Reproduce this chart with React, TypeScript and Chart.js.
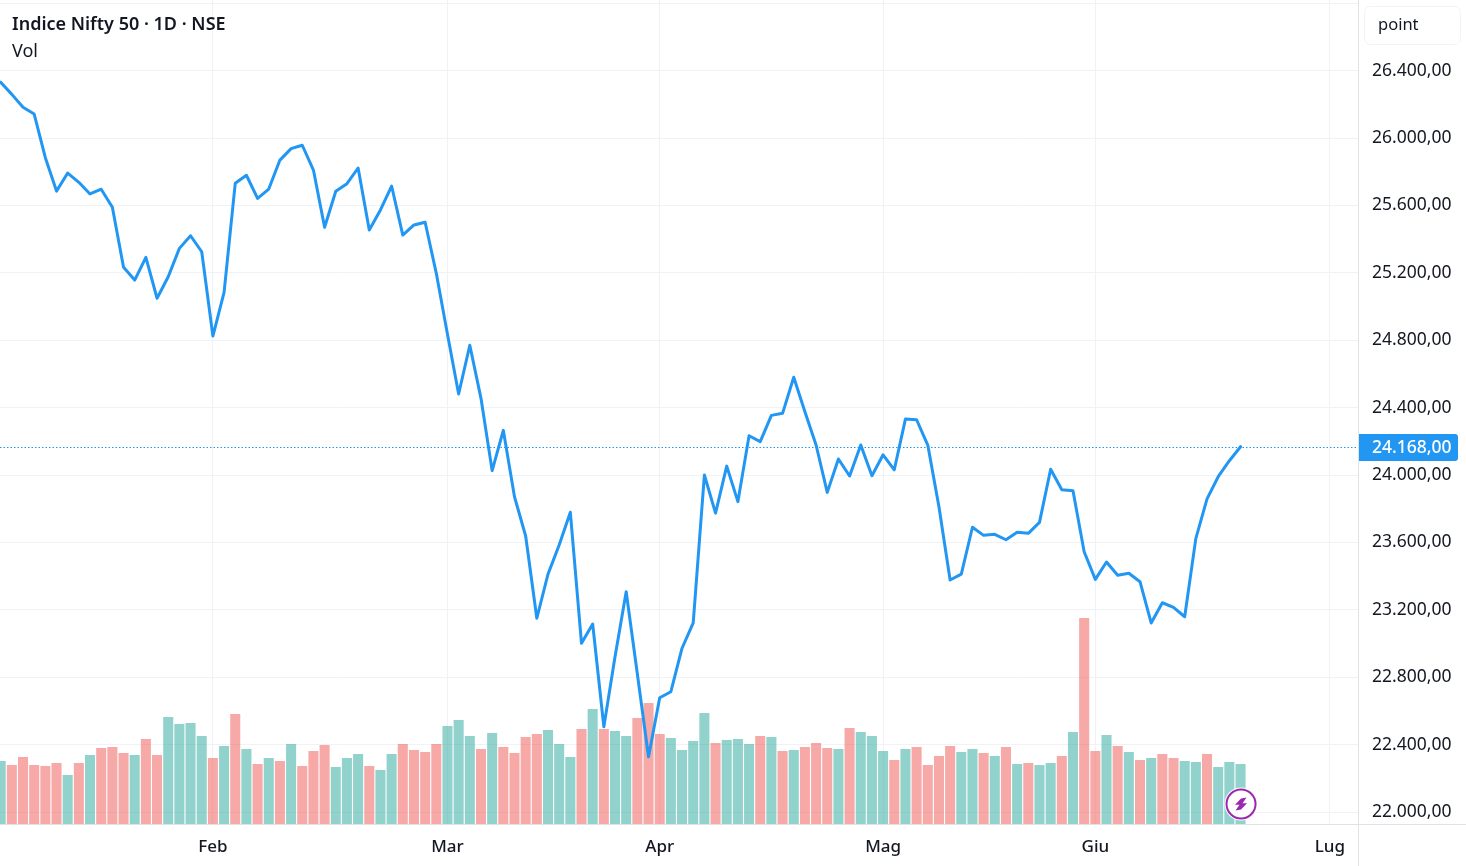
import React, { useEffect, useRef } from "react";
import { Chart, registerables } from "chart.js";

Chart.register(...registerables);

const closes = [
  26331, 26259, 26182, 26142, 25883, 25685, 25792, 25737, 25668, 25696,
  25589, 25233, 25157, 25292, 25049, 25177, 25345, 25420, 25325, 24825,
  25084, 25731, 25779, 25642, 25697, 25869, 25937, 25957, 25810, 25470,
  25684, 25729, 25822, 25454, 25573, 25715, 25424, 25484, 25500, 25197,
  24835, 24481, 24770, 24455, 24026, 24265, 23871, 23638, 23150, 23412,
  23585, 23779, 23001, 23116, 22506, 22922, 23307, 22819, 22328, 22678,
  22714, 22972, 23123, 24000, 23774, 24053, 23842, 24233, 24198, 24354,
  24366, 24580, 24376, 24178, 23897, 24095, 23994, 24178, 23996, 24120,
  24031, 24332, 24328, 24178, 23812, 23377, 23412, 23690, 23642, 23648,
  23616, 23660, 23654, 23719, 24034, 23913, 23907, 23545, 23381, 23484,
  23405, 23417, 23367, 23122, 23242, 23215, 23159, 23624, 23858, 23990,
  24085, 24168,
];

const volumes = [
  189, 177, 201, 177, 174, 183, 147, 183, 207, 228,
  231, 213, 207, 255, 207, 321, 300, 303, 264, 198,
  234, 330, 225, 180, 198, 189, 240, 174, 219, 237,
  171, 198, 210, 174, 162, 210, 240, 222, 216, 240,
  294, 312, 264, 225, 273, 231, 213, 261, 270, 282,
  240, 201, 285, 345, 285, 279, 264, 318, 363, 270,
  258, 222, 249, 333, 243, 252, 255, 240, 264, 261,
  219, 222, 231, 243, 228, 225, 288, 276, 264, 219,
  192, 225, 231, 177, 204, 234, 216, 225, 213, 204,
  231, 180, 183, 177, 183, 204, 276, 618, 219, 267,
  234, 216, 192, 198, 210, 198, 189, 186, 210, 171,
  186, 180,
];

const volumeDirections = (
  "udddddudud" + "ddudduuuud" + "ududududdd" + "uuuduudddd" + "uuududdddu" +
  "uududuuddd" + "uuuuduuudu" + "duddduduuu" + "dudddduudu" + "duduududdu" +
  "dududduudu" + "uu"
).split("");

const monthTickIndexes = [19, 40, 59, 79, 98, 119];
const monthLabels = ["Feb", "Mar", "Apr", "Mag", "Giu", "Lug"];
const priceTicks = [22000, 22400, 22800, 23200, 23600, 24000, 24400, 24800, 25200, 25600, 26000, 26400, 26800];
const titleText = "Indice Nifty 50 · 1D · NSE";
const subTitleText = "Vol";
const unitText = "point";

const FONT = '"Noto Sans", sans-serif';
const INK = "#131722";
const BLUE = "#2196f3";
const GRID = "#f1f2f5";
const AXIS = "#e0e3e6";

const fmt = (v: number) =>
  Math.floor(v).toString().replace(/\B(?=(\d{3})+(?!\d))/g, ".") + ",00";

const zeroPadding = (s: any) => {
  s.paddingTop = 0;
  s.paddingBottom = 0;
  s.paddingLeft = 0;
  s.paddingRight = 0;
};

const overlay = {
  id: "overlay",
  afterDatasetsDraw(chart: any) {
    const { ctx, scales, width, height, chartArea } = chart;
    const last = closes[closes.length - 1];
    const yLast = Math.round(scales.y.getPixelForValue(last)) + 0.5;
    const xLast = scales.x.getPixelForValue(closes.length - 1);
    ctx.save();
    // last price dotted line
    ctx.strokeStyle = BLUE;
    ctx.lineWidth = 1;
    ctx.setLineDash([1.5, 2]);
    ctx.beginPath();
    ctx.moveTo(0, yLast);
    ctx.lineTo(chartArea.right, yLast);
    ctx.stroke();
    ctx.setLineDash([]);
    // axis lines
    ctx.strokeStyle = AXIS;
    ctx.beginPath();
    ctx.moveTo(chartArea.right + 0.5, 0);
    ctx.lineTo(chartArea.right + 0.5, height);
    ctx.moveTo(0, chartArea.bottom + 0.5);
    ctx.lineTo(width, chartArea.bottom + 0.5);
    ctx.stroke();
    // last price label
    ctx.fillStyle = BLUE;
    ctx.beginPath();
    ctx.roundRect(chartArea.right + 1, yLast - 13.5, 99, 27, [0, 3, 3, 0]);
    ctx.fill();
    ctx.fillStyle = "#ffffff";
    ctx.font = `500 17.5px ${FONT}`;
    ctx.textBaseline = "middle";
    ctx.textAlign = "left";
    ctx.fillText(fmt(last), 1372, yLast + 1);
    // unit box
    ctx.strokeStyle = "#f0f3fa";
    ctx.lineWidth = 1;
    ctx.beginPath();
    ctx.roundRect(1364.5, 6.5, 96, 38, 6);
    ctx.stroke();
    ctx.fillStyle = INK;
    ctx.font = `16.5px ${FONT}`;
    ctx.fillText(unitText, 1378, 25.5);
    // headers
    ctx.font = `600 18px ${FONT}`;
    ctx.fillText(titleText, 12, 25);
    ctx.font = `18px ${FONT}`;
    ctx.fillText(subTitleText, 12, 51.5);
    // lightning marker on last bar
    const cy = 804;
    const cx = xLast + 0.5;
    ctx.fillStyle = "#ffffff";
    ctx.beginPath();
    ctx.arc(cx, cy, 16.5, 0, Math.PI * 2);
    ctx.fill();
    ctx.strokeStyle = "#9c27b0";
    ctx.lineWidth = 2;
    ctx.beginPath();
    ctx.arc(cx, cy, 14.5, 0, Math.PI * 2);
    ctx.stroke();
    ctx.fillStyle = "#9c27b0";
    ctx.beginPath();
    ctx.moveTo(cx + 5.5, cy - 6.5);
    ctx.lineTo(cx, cy - 5.5);
    ctx.lineTo(cx - 6, cy + 0.8);
    ctx.lineTo(cx - 1.5, cy + 0.8);
    ctx.lineTo(cx - 5.5, cy + 6.5);
    ctx.lineTo(cx, cy + 5.5);
    ctx.lineTo(cx + 6, cy - 0.8);
    ctx.lineTo(cx + 1.5, cy - 0.8);
    ctx.closePath();
    ctx.fill();
    ctx.restore();
  },
};

export default function App() {
  const ref = useRef<HTMLCanvasElement>(null);
  useEffect(() => {
    const chart = new Chart(ref.current as HTMLCanvasElement, {
      type: "bar",
      data: {
        datasets: [
          {
            type: "line",
            order: 0,
            yAxisID: "y",
            data: closes.map((c, i) => ({ x: i, y: c })),
            borderColor: BLUE,
            borderWidth: 3,
            borderJoinStyle: "round",
            borderCapStyle: "round",
            pointRadius: 0,
            tension: 0,
          },
          {
            type: "bar",
            order: 1,
            yAxisID: "yVol",
            data: volumes.map((v, i) => ({ x: i, y: v })),
            backgroundColor: volumeDirections.map((d) =>
              d === "u" ? "rgba(38,166,154,0.5)" : "rgba(239,83,80,0.5)"
            ),
            borderWidth: 0,
            barPercentage: 1,
            categoryPercentage: 0.9,
          },
        ],
      },
      options: {
        responsive: false,
        animation: false,
        devicePixelRatio: 1,
        layout: { padding: 0, autoPadding: false },
        plugins: { legend: { display: false }, tooltip: { enabled: false }, title: { display: false } },
        scales: {
          x: {
            type: "linear",
            min: -0.06,
            max: 121.516,
            offset: false,
            afterBuildTicks: (s: any) => {
              s.ticks = monthTickIndexes.map((value) => ({ value }));
            },
            afterFit: (s: any) => {
              s.height = 42;
              zeroPadding(s);
            },
            grid: { color: GRID, drawTicks: false, offset: false },
            border: { display: false },
            ticks: {
              autoSkip: false,
              maxRotation: 0,
              padding: 13,
              color: INK,
              font: { family: FONT, size: 17, weight: "500" },
              callback: (v: any) => monthLabels[monthTickIndexes.indexOf(Number(v))] ?? "",
            },
          },
          y: {
            type: "linear",
            position: "right",
            min: 21929,
            max: 26819,
            afterBuildTicks: (s: any) => {
              s.ticks = priceTicks.map((value) => ({ value }));
            },
            afterFit: (s: any) => {
              s.width = 108;
              zeroPadding(s);
            },
            grid: { color: GRID, drawTicks: false },
            border: { display: false },
            ticks: {
              autoSkip: false,
              padding: 14,
              crossAlign: "near",
              color: INK,
              font: { family: FONT, size: 17.5 },
              callback: (v: any) => (Number(v) > 26400 ? "" : fmt(Number(v))),
            },
          },
          yVol: {
            type: "linear",
            display: false,
            min: 0,
            max: 2472,
          },
        },
      },
      plugins: [overlay],
    } as any);
    return () => chart.destroy();
  }, []);
  return (
    <div style={{ position: "fixed", left: 0, top: 0, width: 1466, height: 866, background: "#fff" }}>
      <canvas ref={ref} width={1466} height={866} style={{ display: "block" }} />
    </div>
  );
}
